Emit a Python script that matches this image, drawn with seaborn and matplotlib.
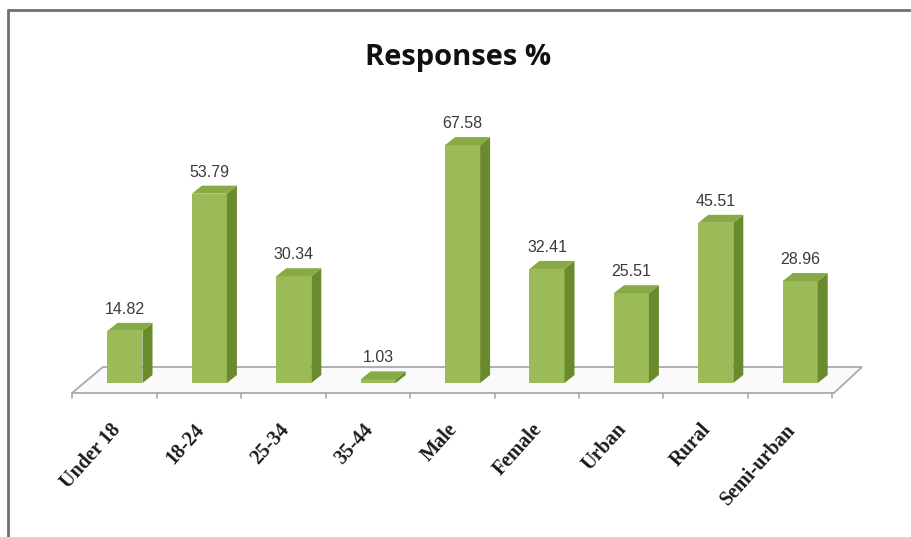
import matplotlib
matplotlib.use("Agg")
import matplotlib.pyplot as plt
from matplotlib.patches import Polygon
from matplotlib.lines import Line2D
from matplotlib.transforms import ScaledTranslation
import seaborn as sns
import pandas as pd

categories = ["Under 18", "18-24", "25-34", "35-44", "Male", "Female", "Urban", "Rural", "Semi-urban"]
values = [14.82, 53.79, 30.34, 1.03, 67.58, 32.41, 25.51, 45.51, 28.96]
title = "Responses %"

sns.set_style("white")
plt.rcParams["font.family"] = ["DejaVu Sans"]

W, H = 911, 537
fig = plt.figure(figsize=(W / 100, H / 100), dpi=100)

# pixel geometry helpers
px_per_cat = 84.4
x0_pix = 125.0
base_pix = 383.0
px_per_unit = 3.52
ax_l, ax_r, ax_b, ax_t = 60, 885, 400, 100
ax = fig.add_axes([ax_l / W, (H - ax_b) / H, (ax_r - ax_l) / W, (ax_b - ax_t) / H])

df = pd.DataFrame({"cat": categories, "val": values})
front_col = "#9BBB59"
side_col = "#6A8A2E"
top_col = "#88AA44"
sns.barplot(data=df, x="cat", y="val", color=front_col, saturation=1, width=35 / px_per_cat,
            ax=ax, zorder=3, edgecolor="none")
bars = list(ax.patches)

ax.set_xlim((ax_l - x0_pix) / px_per_cat, (ax_r - x0_pix) / px_per_cat)
ax.set_ylim(-(ax_b - base_pix) / px_per_unit, (base_pix - ax_t) / px_per_unit)

dx = 10 / px_per_cat
dy = 8 / px_per_unit

# floor
fy_front = -(393 - base_pix) / px_per_unit
fy_back = (base_pix - 367) / px_per_unit
floor = Polygon([((72 - x0_pix) / px_per_cat, fy_front), ((103 - x0_pix) / px_per_cat, fy_back),
                 ((862 - x0_pix) / px_per_cat, fy_back), ((834 - x0_pix) / px_per_cat, fy_front)],
                closed=True, facecolor="#FAFAFA", edgecolor="#A8A8B8", lw=1.3, zorder=1)
ax.add_patch(floor)
tick_len = 5 / px_per_unit
for i in range(len(categories)):
    xt = i + 0.38
    ax.plot([xt, xt], [fy_front, fy_front - tick_len], color="#A8A8B8", lw=1.2, zorder=1)
ax.plot([(72 - x0_pix) / px_per_cat] * 2, [fy_front, fy_front - tick_len], color="#A8A8B8", lw=1.2, zorder=1)

# 3D faces
for p, v in zip(bars, values):
    x = p.get_x(); w = p.get_width(); h = p.get_height()
    side = Polygon([(x + w, 0), (x + w + dx, dy), (x + w + dx, h + dy), (x + w, h)],
                   closed=True, facecolor=side_col, edgecolor="none", zorder=3)
    top = Polygon([(x, h), (x + dx, h + dy), (x + w + dx, h + dy), (x + w, h)],
                  closed=True, facecolor=top_col, edgecolor="none", zorder=4)
    ax.add_patch(side); ax.add_patch(top)
    ax.text(x + w / 2, h + dy + 3.8, f"{v:.2f}", ha="center", va="center",
            fontsize=11.5, color="#3A3A3A", family=["Liberation Sans"], zorder=5)

for s in ax.spines.values():
    s.set_visible(False)
ax.set_yticks([])
ax.set_xlabel(""); ax.set_ylabel("")
ax.tick_params(axis="x", length=0, pad=19)
offset = ScaledTranslation(-8 / 100, 0, fig.dpi_scale_trans)
for lab in ax.get_xticklabels():
    lab.set_rotation(48)
    lab.set_ha("right")
    lab.set_va("center")
    lab.set_rotation_mode("anchor")
    lab.set_fontfamily(["Liberation Serif"])
    lab.set_fontweight("bold")
    lab.set_fontsize(14.5)
    lab.set_color("#1A1A1A")
    lab.set_transform(lab.get_transform() + offset)

fig.text(458 / W, 1 - 57 / H, title, ha="center", va="center", fontsize=21,
         fontweight="bold", family=["Open Sans"], color="#111111")

# border
fig.add_artist(Line2D([8 / W, 1], [1 - 10 / H, 1 - 10 / H], color="#707070", lw=2))
fig.add_artist(Line2D([8 / W, 8 / W], [0, 1 - 10 / H], color="#707070", lw=2))

fig.savefig("out.png", dpi=100, facecolor="white")
